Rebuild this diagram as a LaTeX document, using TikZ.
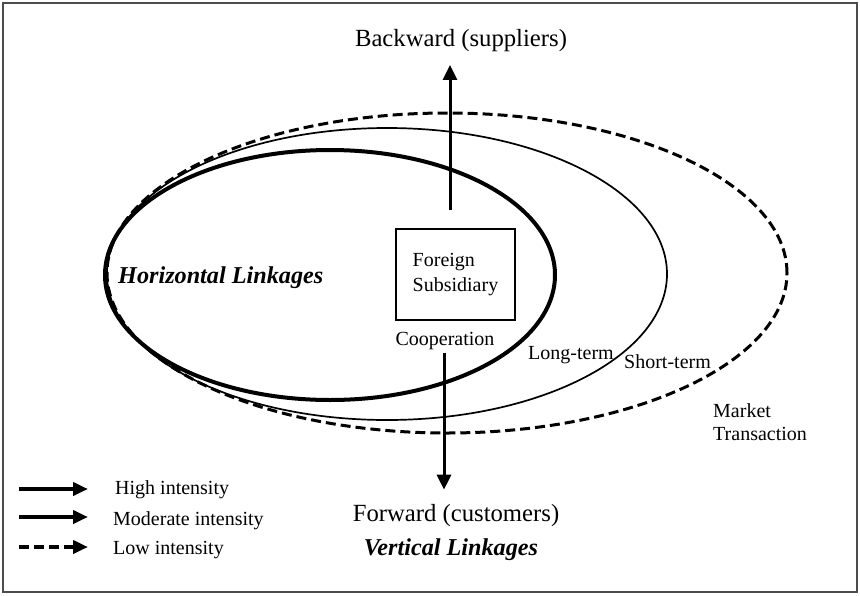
\documentclass[tikz,border=0pt]{standalone}
\usepackage{fontspec}
\setmainfont{Liberation Serif}
\usetikzlibrary{arrows.meta}

\begin{document}
\begin{tikzpicture}[x=1pt,y=-1pt,
  lbl/.style={inner sep=0pt, font=\fontsize{24.7}{28}\selectfont},
  small/.style={inner sep=0pt, font=\fontsize{20}{23}\selectfont},
  bigital/.style={inner sep=0pt, font=\fontsize{24.2}{28}\selectfont\bfseries\itshape},
  linkarrow/.style={line width=3pt, -{Triangle[length=15pt,width=14pt]}},
  legarrow/.style={line width=4.5pt, -{Triangle[length=15pt,width=13pt]}},
  strong/.style={line width=4pt},
  moderate/.style={line width=1.7pt},
  weak/.style={line width=3pt, dash pattern=on 10pt off 5pt},
]
\useasboundingbox (0,0) rectangle (860,595);
\draw[line width=1.5pt, black!70] (3,3) rectangle (857,592);

% nested linkage regions
\draw[weak] (447,273) ellipse [x radius=340pt, y radius=160pt];
\draw[moderate] (387,274) ellipse [x radius=280pt, y radius=146pt];
\draw[strong] (330,275) ellipse [x radius=225pt, y radius=125pt];

% subsidiary box
\node[draw, line width=2pt, minimum width=119pt, minimum height=91pt,
      inner sep=0pt, align=left, font=\fontsize{20}{25}\selectfont]
      (sub) at (455.5,274.5) {Foreign\\Subsidiary};
\node[small, anchor=base] (coop) at (445,345) {Cooperation};

% vertical linkage labels
\node[lbl, anchor=base] (back) at (461,46) {Backward (suppliers)};
\node[lbl, anchor=base] (fwd) at (456,521) {Forward (customers)};
\node[bigital, anchor=base] (vert) at (451,555) {Vertical Linkages};
\node[bigital, anchor=base west] (horiz) at (118,283) {Horizontal Linkages};

% vertical linkage arrows
\coordinate (uptail) at (450,210);
\coordinate (downtail) at (444,353);
\draw[linkarrow, shorten >=13.5pt] (uptail) -- (uptail |- back.south);
\draw[linkarrow, shorten >=14pt] (downtail) -- (downtail |- fwd.north);

% region labels
\node[small, anchor=base west] (long) at (528,359) {Long-term};
\node[small, anchor=base west] (short) at (624,368) {Short-term};
\node[small, anchor=base west, align=left] (market) at (713,440) {Market\\Transaction};

% legend
\coordinate (hA) at (19,489); \coordinate (hB) at (88,489);
\coordinate (mA) at (19,517); \coordinate (mB) at (88,517);
\coordinate (lA) at (19,547); \coordinate (lB) at (88,547);
\draw[legarrow] (hA) -- (hB);
\draw[legarrow] (mA) -- (mB);
\draw[legarrow, dash pattern=on 10pt off 5pt] (lA) -- (lB);
\node[small, anchor=base west] (high) at (115,494) {High intensity};
\node[small, anchor=base west] (mod) at (113,525) {Moderate intensity};
\node[small, anchor=base west] (low) at (113,554) {Low intensity};
\end{tikzpicture}
\end{document}
